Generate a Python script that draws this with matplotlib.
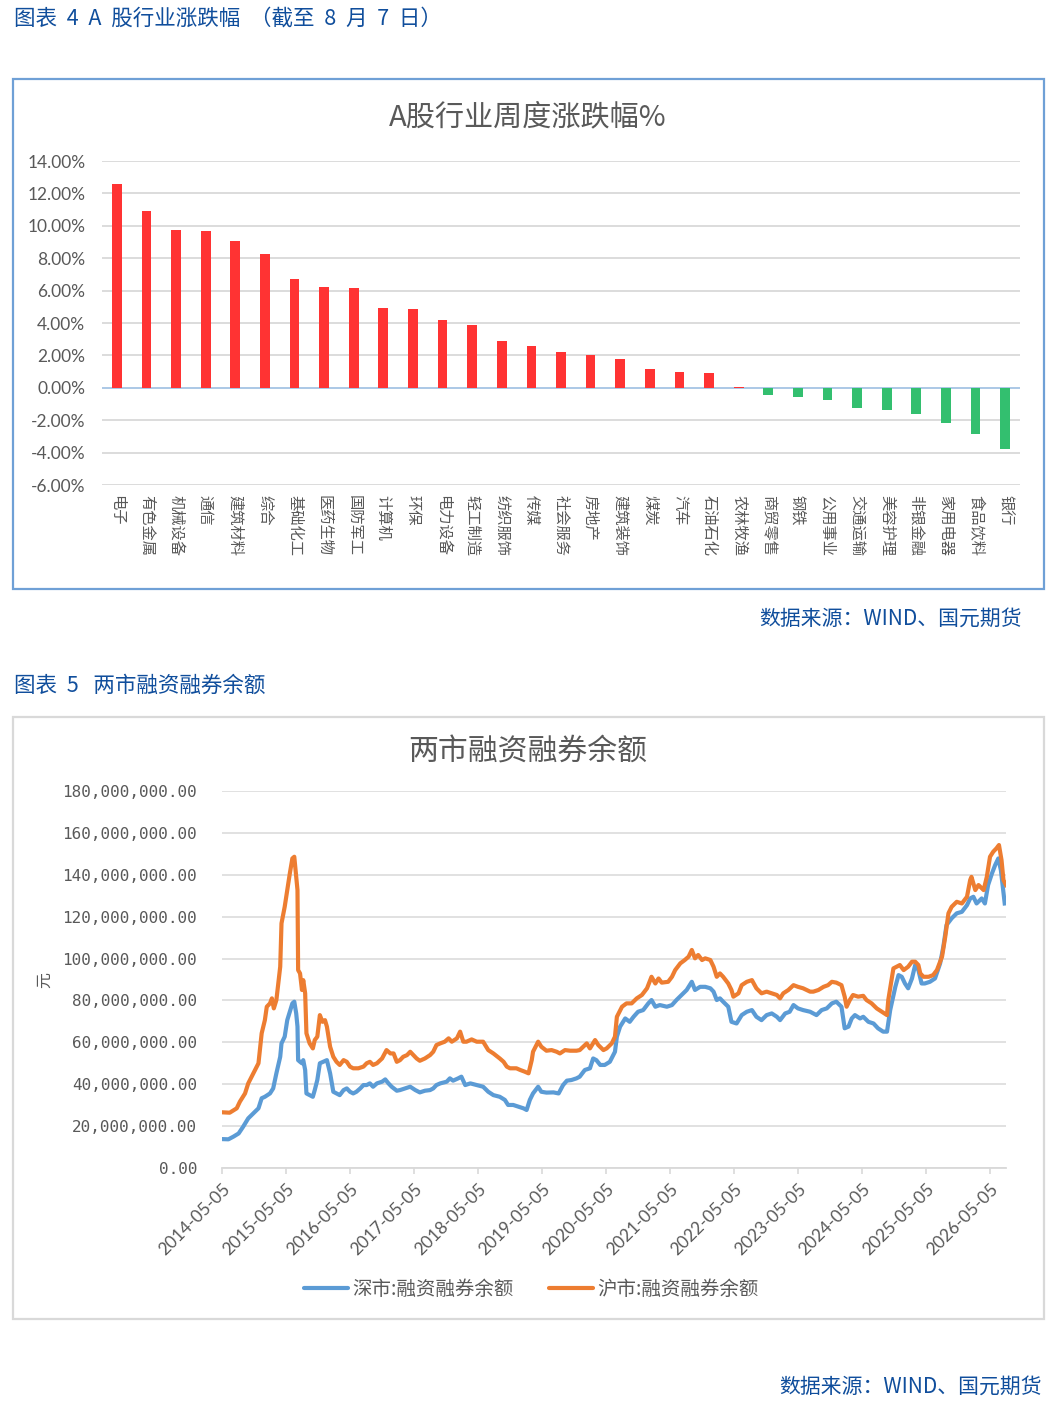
import matplotlib
matplotlib.use('Agg')
import matplotlib.pyplot as plt
from matplotlib.ticker import FuncFormatter
from matplotlib.lines import Line2D
from matplotlib.patches import Rectangle
import numpy as np
import pandas as pd

plt.rcParams['font.family'] = ['Noto Sans CJK SC', 'DejaVu Sans']
plt.rcParams['axes.unicode_minus'] = False

# ---------------- data: chart 1 ----------------
industries = ['电子', '有色金属', '机械设备', '通信', '建筑材料', '综合', '基础化工', '医药生物',
              '国防军工', '计算机', '环保', '电力设备', '轻工制造', '纺织服饰', '传媒', '社会服务',
              '房地产', '建筑装饰', '煤炭', '汽车', '石油石化', '农林牧渔', '商贸零售', '钢铁',
              '公用事业', '交通运输', '美容护理', '非银金融', '家用电器', '食品饮料', '银行']
weekly_change = [12.60, 10.93, 9.71, 9.69, 9.09, 8.28, 6.73, 6.24, 6.18, 4.94, 4.88, 4.19,
                 3.88, 2.89, 2.58, 2.21, 2.03, 1.78, 1.16, 0.97, 0.91, 0.05, -0.45, -0.57,
                 -0.76, -1.26, -1.38, -1.63, -2.20, -2.83, -3.76]

# ---------------- data: chart 2 (decimal year, million yuan) ----------------
sh_t = [2014.34, 2014.46, 2014.57, 2014.62, 2014.70, 2014.75, 2014.83, 2014.91, 2014.96, 2015.01,
        2015.04, 2015.09, 2015.12, 2015.15, 2015.19, 2015.25, 2015.27, 2015.32, 2015.36, 2015.40,
        2015.44, 2015.47, 2015.50, 2015.52, 2015.53, 2015.56, 2015.59, 2015.61, 2015.64, 2015.66,
        2015.71, 2015.76, 2015.79, 2015.83, 2015.87, 2015.91, 2015.95, 2015.98, 2016.03, 2016.08,
        2016.13, 2016.18, 2016.24, 2016.29, 2016.34, 2016.39, 2016.47, 2016.55, 2016.60, 2016.65,
        2016.70, 2016.76, 2016.84, 2016.91, 2016.97, 2017.02, 2017.07, 2017.12, 2017.17, 2017.23,
        2017.28, 2017.33, 2017.38, 2017.43, 2017.51, 2017.59, 2017.64, 2017.69, 2017.75, 2017.82,
        2017.88, 2017.93, 2018.01, 2018.06, 2018.11, 2018.16, 2018.24, 2018.32, 2018.42, 2018.50,
        2018.58, 2018.68, 2018.74, 2018.79, 2018.84, 2018.94, 2019.00, 2019.07, 2019.13, 2019.18,
        2019.20, 2019.28, 2019.33, 2019.41, 2019.49, 2019.57, 2019.62, 2019.70, 2019.78, 2019.88,
        2019.93, 2020.04, 2020.09, 2020.17, 2020.22, 2020.30, 2020.35, 2020.43, 2020.48, 2020.51,
        2020.59, 2020.66, 2020.74, 2020.82, 2020.90, 2020.98, 2021.03, 2021.05, 2021.11, 2021.16,
        2021.21, 2021.31, 2021.37, 2021.42, 2021.50, 2021.57, 2021.63, 2021.68, 2021.73, 2021.78,
        2021.84, 2021.89, 2021.97, 2022.02, 2022.07, 2022.12, 2022.17, 2022.25, 2022.30, 2022.33,
        2022.41, 2022.46, 2022.54, 2022.62, 2022.69, 2022.77, 2022.85, 2022.93, 2023.01, 2023.06,
        2023.11, 2023.19, 2023.27, 2023.34, 2023.42, 2023.53, 2023.58, 2023.66, 2023.74, 2023.81,
        2023.87, 2023.94, 2024.02, 2024.07, 2024.10, 2024.15, 2024.20, 2024.28, 2024.36, 2024.41,
        2024.49, 2024.57, 2024.65, 2024.73, 2024.75, 2024.80, 2024.83, 2024.88, 2024.93, 2024.99,
        2025.06, 2025.12, 2025.17, 2025.22, 2025.25, 2025.30, 2025.38, 2025.45, 2025.51, 2025.59,
        2025.64, 2025.69, 2025.74, 2025.82, 2025.90, 2025.98, 2026.03, 2026.05, 2026.11, 2026.16,
        2026.24, 2026.29, 2026.34, 2026.39, 2026.44, 2026.48, 2026.52, 2026.55, 2026.59]
sh_v = [26.6, 26.4, 28.5, 31.7, 35.6, 40.4, 45.2, 50.0, 64.3, 70.6,
        77.0, 78.6, 81.0, 76.2, 80.2, 96.1, 116.8, 124.7, 132.7, 140.6,
        147.8, 148.6, 139.0, 132.7, 94.5, 92.9, 85.0, 89.7, 83.4, 64.3,
        59.5, 57.1, 61.1, 62.7, 73.0, 69.8, 70.6, 67.5, 57.9, 53.1,
        50.7, 49.2, 51.5, 50.7, 48.4, 47.6, 47.6, 48.4, 50.0, 50.7,
        49.2, 50.0, 52.3, 56.3, 54.7, 54.7, 50.7, 51.5, 53.1, 53.9,
        55.5, 53.9, 52.3, 51.2, 52.3, 53.9, 55.5, 58.7, 59.5, 60.3,
        61.9, 60.3, 61.9, 65.1, 60.3, 60.3, 61.4, 60.3, 60.3, 56.3,
        54.7, 52.3, 50.7, 48.4, 47.6, 47.6, 46.8, 46.0, 45.2, 51.5,
        55.5, 60.3, 57.9, 56.0, 56.3, 55.5, 54.7, 56.3, 56.0, 56.0,
        56.3, 59.5, 57.1, 61.1, 58.7, 56.3, 57.1, 59.5, 62.7, 72.2,
        77.0, 78.6, 78.6, 81.0, 82.6, 85.8, 89.7, 91.3, 88.1, 90.5,
        88.5, 88.9, 91.3, 94.5, 97.7, 99.3, 100.9, 104.1, 100.1, 101.7,
        99.3, 100.1, 99.3, 96.1, 91.3, 92.9, 91.3, 88.1, 85.0, 81.8,
        83.4, 87.3, 88.9, 89.7, 85.8, 83.4, 84.2, 83.4, 82.6, 81.0,
        83.4, 85.0, 87.3, 86.5, 85.8, 84.2, 84.2, 85.0, 86.5, 87.3,
        88.9, 88.5, 87.3, 81.8, 77.0, 80.2, 82.6, 81.8, 82.2, 80.2,
        78.6, 76.2, 74.6, 73.0, 80.2, 89.7, 95.3, 96.1, 96.9, 94.5,
        96.1, 98.5, 98.5, 96.9, 92.9, 91.3, 91.3, 92.1, 94.5, 100.9,
        110.4, 121.6, 124.7, 127.1, 126.3, 129.5, 137.5, 139.0, 132.7, 135.1,
        132.7, 139.0, 148.6, 151.0, 152.6, 154.2, 147.0, 137.5, 135.1]

sz_t = [2014.34, 2014.44, 2014.52, 2014.60, 2014.67, 2014.75, 2014.83, 2014.91, 2014.96, 2015.01,
        2015.09, 2015.14, 2015.19, 2015.25, 2015.27, 2015.32, 2015.36, 2015.40, 2015.44, 2015.47,
        2015.50, 2015.52, 2015.53, 2015.56, 2015.59, 2015.61, 2015.64, 2015.66, 2015.71, 2015.76,
        2015.79, 2015.83, 2015.87, 2015.92, 2015.98, 2016.03, 2016.08, 2016.13, 2016.18, 2016.24,
        2016.29, 2016.34, 2016.39, 2016.44, 2016.50, 2016.55, 2016.60, 2016.65, 2016.70, 2016.76,
        2016.84, 2016.89, 2016.94, 2016.99, 2017.07, 2017.12, 2017.20, 2017.28, 2017.36, 2017.43,
        2017.51, 2017.59, 2017.64, 2017.69, 2017.75, 2017.85, 2017.90, 2017.95, 2018.03, 2018.08,
        2018.14, 2018.22, 2018.32, 2018.42, 2018.50, 2018.58, 2018.68, 2018.76, 2018.81, 2018.89,
        2018.97, 2019.05, 2019.10, 2019.15, 2019.20, 2019.28, 2019.33, 2019.41, 2019.52, 2019.60,
        2019.67, 2019.73, 2019.80, 2019.88, 2019.93, 2020.01, 2020.09, 2020.14, 2020.19, 2020.25,
        2020.32, 2020.40, 2020.48, 2020.51, 2020.56, 2020.64, 2020.71, 2020.77, 2020.84, 2020.92,
        2021.00, 2021.05, 2021.11, 2021.18, 2021.29, 2021.37, 2021.44, 2021.52, 2021.60, 2021.68,
        2021.73, 2021.81, 2021.89, 2021.97, 2022.02, 2022.07, 2022.12, 2022.17, 2022.25, 2022.30,
        2022.38, 2022.46, 2022.54, 2022.62, 2022.69, 2022.77, 2022.85, 2022.93, 2023.01, 2023.06,
        2023.14, 2023.21, 2023.27, 2023.34, 2023.42, 2023.53, 2023.63, 2023.71, 2023.79, 2023.87,
        2023.94, 2024.02, 2024.07, 2024.13, 2024.18, 2024.23, 2024.31, 2024.36, 2024.44, 2024.52,
        2024.59, 2024.67, 2024.73, 2024.78, 2024.86, 2024.91, 2024.96, 2025.01, 2025.06, 2025.12,
        2025.17, 2025.22, 2025.27, 2025.32, 2025.40, 2025.48, 2025.56, 2025.61, 2025.66, 2025.74,
        2025.82, 2025.90, 2025.98, 2026.03, 2026.08, 2026.13, 2026.21, 2026.26, 2026.31, 2026.37,
        2026.42, 2026.47, 2026.51, 2026.54, 2026.57]
sz_v = [13.8, 13.7, 15.0, 16.5, 19.7, 23.7, 26.1, 28.5, 33.3, 34.0,
        35.6, 38.0, 45.2, 53.1, 59.5, 62.7, 70.6, 74.6, 78.6, 79.4,
        73.8, 67.5, 51.5, 50.7, 50.0, 51.5, 46.8, 35.6, 34.8, 34.0,
        37.2, 42.0, 50.0, 50.7, 51.5, 45.2, 36.4, 35.6, 34.8, 37.2,
        38.0, 36.4, 35.6, 36.4, 38.0, 39.6, 39.6, 40.4, 38.8, 40.4,
        41.2, 42.3, 40.4, 38.8, 36.9, 37.2, 38.0, 38.8, 37.2, 36.1,
        36.9, 37.2, 38.0, 39.6, 40.4, 41.2, 42.8, 41.7, 42.8, 43.6,
        39.6, 40.4, 39.6, 38.8, 36.4, 34.8, 34.0, 32.5, 30.1, 30.1,
        29.3, 28.5, 27.7, 32.5, 35.6, 38.8, 36.4, 36.0, 36.1, 35.6,
        39.6, 41.7, 42.0, 42.8, 43.6, 46.8, 47.6, 52.3, 51.5, 49.2,
        49.2, 50.7, 55.5, 62.7, 67.5, 71.4, 69.8, 72.2, 74.6, 75.4,
        78.6, 80.2, 77.0, 77.8, 77.0, 77.8, 80.2, 82.6, 85.0, 88.9,
        85.0, 86.5, 86.5, 85.8, 84.2, 80.2, 81.0, 79.4, 77.0, 69.8,
        69.0, 73.0, 74.6, 75.4, 72.2, 70.6, 73.0, 73.8, 72.2, 70.6,
        73.8, 74.6, 77.8, 76.2, 75.4, 74.6, 73.0, 75.4, 76.2, 78.6,
        79.4, 77.0, 66.7, 67.5, 71.4, 73.0, 71.4, 72.2, 69.8, 69.0,
        66.7, 65.1, 65.1, 75.4, 86.5, 92.1, 91.3, 88.1, 85.8, 90.5,
        96.9, 94.5, 88.1, 88.1, 88.9, 90.5, 97.7, 105.6, 116.0, 119.2,
        121.6, 122.3, 125.5, 128.7, 129.5, 126.3, 128.7, 126.3, 135.1, 140.6,
        144.6, 147.8, 142.2, 134.3, 126.3]

tick_years = list(range(2014, 2027))

# ---------------- helpers ----------------
W, H = 1064, 1412


def fx(px):
    return px / W


def fy(py):
    return 1 - py / H


def dec_to_date(y):
    yr = int(y)
    start = pd.Timestamp(year=yr, month=1, day=1)
    end = pd.Timestamp(year=yr + 1, month=1, day=1)
    return (start + (end - start) * (y - yr)).to_pydatetime()


HEAD = '#104E9C'
GREY_TXT = '#595959'
GRID = '#D9D9D9'
LATO = ['Lato', 'DejaVu Sans']

fig = plt.figure(figsize=(W / 100, H / 100), dpi=100)

# ---------------- headers / frames ----------------
fig.text(fx(14), fy(19), '图表  4  A  股行业涨跌幅  （截至  8  月  7  日）', ha='left', va='center',
         fontsize=15.5, color=HEAD, fontweight='medium')
fig.add_artist(Rectangle((fx(13), fy(589)), fx(1044) - fx(13), fy(79) - fy(589),
                         transform=fig.transFigure, fill=False, ec='#6FA0D6', lw=1.6))
fig.text(fx(528), fy(117), 'A股行业周度涨跌幅%', ha='center', va='center', fontsize=21, color=GREY_TXT)
fig.text(fx(1022), fy(619), '数据来源：WIND、国元期货', ha='right', va='center', fontsize=15,
         color=HEAD, fontweight='medium')

fig.text(fx(14), fy(686), '图表  5   两市融资融券余额', ha='left', va='center', fontsize=15.5,
         color=HEAD, fontweight='medium')
fig.add_artist(Rectangle((fx(13), fy(1319)), fx(1044) - fx(13), fy(717) - fy(1319),
                         transform=fig.transFigure, fill=False, ec=GRID, lw=1.6))
fig.text(fx(528), fy(752), '两市融资融券余额', ha='center', va='center', fontsize=21.5, color=GREY_TXT)
fig.text(fx(1042), fy(1387), '数据来源：WIND、国元期货', ha='right', va='center', fontsize=15,
         color=HEAD, fontweight='medium')

# ---------------- chart 1 ----------------
ax1 = fig.add_axes([fx(102), fy(485), fx(1020) - fx(102), fy(161) - fy(485)])
xpos = np.arange(len(industries))
bar_colors = ['#FF3333' if v >= 0 else '#33BF6F' for v in weekly_change]
ax1.bar(xpos, weekly_change, width=0.33, color=bar_colors, zorder=3)
ax1.set_xlim(-0.5, len(industries) - 0.5)
ax1.set_ylim(-6, 14)
ax1.set_yticks(np.arange(-6, 15, 2))
ax1.yaxis.set_major_formatter(FuncFormatter(lambda v, p: f'{v:.2f}%'))
ax1.grid(axis='y', color=GRID, lw=1.3, zorder=0)
ax1.set_axisbelow(True)
ax1.axhline(0, color='#A9C8E8', lw=1.3, zorder=2)
for s in ax1.spines.values():
    s.set_visible(False)
ax1.set_xticks(xpos)
ax1.set_xticklabels(industries, rotation=270, fontsize=11, color=GREY_TXT)
ax1.tick_params(axis='x', length=0, pad=7)
ax1.tick_params(axis='y', length=0, pad=12, labelsize=12.5, labelcolor=GREY_TXT)
for lab in ax1.get_yticklabels():
    lab.set_fontfamily(LATO)

# ---------------- chart 2 ----------------
ax2 = fig.add_axes([fx(222), fy(1168), fx(1006) - fx(222), fy(791) - fy(1168)])
sz_d = [dec_to_date(t) for t in sz_t]
sh_d = [dec_to_date(t) for t in sh_t]
ax2.plot(sz_d, np.array(sz_v) * 1e6, color='#5B9BD5', lw=3, solid_joinstyle='round', zorder=3)
ax2.plot(sh_d, np.array(sh_v) * 1e6, color='#ED7D31', lw=3, solid_joinstyle='round', zorder=3)
ax2.set_xlim(min(sh_d[0], sz_d[0]), max(sh_d[-1], sz_d[-1]))
ax2.set_ylim(0, 180e6)
ax2.set_yticks(np.arange(0, 180e6 + 1, 20e6))
ax2.yaxis.set_major_formatter(FuncFormatter(lambda v, p: f'{v:,.2f}'))
ax2.grid(axis='y', color=GRID, lw=1.1, zorder=0)
ax2.set_axisbelow(True)
for k in ['top', 'right', 'left']:
    ax2.spines[k].set_visible(False)
ax2.spines['bottom'].set_color(GRID)
ax2.spines['bottom'].set_linewidth(1.3)
ticks = [pd.Timestamp(f'{y}-05-05').to_pydatetime() for y in tick_years]
ax2.set_xticks(ticks)
ax2.set_xticklabels([f'{y}-05-05' for y in tick_years], rotation=45, ha='right',
                    rotation_mode='anchor', fontsize=12.5, color=GREY_TXT, family=LATO)
ax2.tick_params(axis='x', length=4, width=1.2, color=GRID, pad=5)
ax2.tick_params(axis='y', length=0, pad=18, labelsize=11.5, labelcolor=GREY_TXT)
for lab in ax2.get_yticklabels():
    lab.set_fontfamily(['DejaVu Sans Mono'])
fig.text(fx(45), fy(980), '元', rotation=90, ha='center', va='center', fontsize=11.5, color=GREY_TXT)

handles = [Line2D([], [], color='#5B9BD5', lw=3, solid_capstyle='round'),
           Line2D([], [], color='#ED7D31', lw=3, solid_capstyle='round')]
fig.legend(handles, ['深市:融资融券余额', '沪市:融资融券余额'], loc='center',
           bbox_to_anchor=(fx(531), fy(1289)), ncol=2, frameon=False, fontsize=14,
           handlelength=2.3, handletextpad=0.2, columnspacing=1.8, labelcolor=GREY_TXT)

fig.savefig('out.png', dpi=100)
